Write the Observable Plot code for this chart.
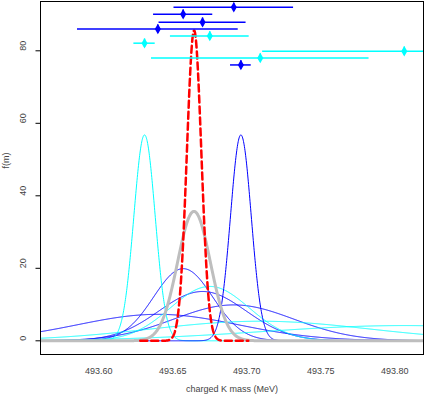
<!DOCTYPE html>
<html><head><meta charset="utf-8">
<script src="https://cdn.jsdelivr.net/npm/d3@7"></script>
<script src="https://cdn.jsdelivr.net/npm/@observablehq/plot@0.6"></script>
<style>body{margin:0;background:#fff} svg{display:block}</style>
</head><body><div id="chart"></div>
<script>
// Measurements (charged K mass, MeV)
const massValues  = [493.6912, 493.6570, 493.6701, 493.6399, 493.6750, 493.6309, 493.8064, 493.7091, 493.6960];
const massErrors  = [0.0404, 0.0200, 0.0294, 0.0543, 0.0266, 0.0072, 0.0957, 0.0735, 0.0070];
const rowLevels   = [92.0, 90.1, 87.9, 86.0, 84.1, 82.1, 79.9, 78.0, 76.1];
const curvePeaks  = [9.9, 19.9, 13.6, 7.3, 15.0, 56.8, 4.2, 5.4, 56.8];
const seriesColors = ["blue","blue","blue","blue","cyan","cyan","cyan","cyan","blue"];
// Combined curves: [center, sigma, peak]
const grayCurve = [493.6643, 0.0111, 35.7];
const redCurve  = [493.6644, 0.0049, 85.6];
const redRange  = [493.628, 493.701];
const xTicks = [493.60, 493.65, 493.70, 493.75, 493.80];
const yTicks = [0, 20, 40, 60, 80];
const xDomain = [493.5606, 493.8194];
const yDomain = [-3.78, 93.6];

const gauss = (x, c, s, p) => p * Math.exp(-0.5 * ((x - c) / s) ** 2);
const grid = (a, b) => d3.range(a, b + 1e-9, 0.0002);

const curves = [];
massValues.forEach((m, i) => {
  for (const x of grid(xDomain[0], xDomain[1]))
    curves.push({i, x, y: gauss(x, m, massErrors[i], curvePeaks[i]), color: seriesColors[i]});
});
const grayPts = grid(xDomain[0], xDomain[1]).map(x => ({x, y: gauss(x, ...grayCurve)}));
const redPts = grid(redRange[0], redRange[1]).map(x => ({x, y: gauss(x, ...redCurve)}));
const meas = massValues.map((m, i) => ({m, e: massErrors[i], y: rowLevels[i], color: seriesColors[i]}));

const font = "Liberation Sans, Arial, Helvetica, sans-serif";
const chart = Plot.plot({
  width: 424, height: 395,
  marginLeft: 40, marginRight: 1, marginTop: 1, marginBottom: 41,
  style: {fontFamily: font, fontSize: "9px", color: "#444", background: "#fff"},
  x: {domain: xDomain},
  y: {domain: yDomain},
  marks: [
    Plot.line(curves, {x: "x", y: "y", z: "i", stroke: "color", strokeWidth: 1, clip: true}),
    Plot.line(grayPts, {x: "x", y: "y", stroke: "#bebebe", strokeWidth: 3, clip: true}),
    Plot.line(redPts, {x: "x", y: "y", stroke: "red", strokeWidth: 2.5, strokeDasharray: "7,4", clip: true}),
    Plot.ruleY(meas, {y: "y", x1: d => d.m - d.e, x2: d => d.m + d.e, stroke: "color", strokeWidth: 1.5, clip: true}),
    Plot.ruleX(meas, {x: "m", y1: d => d.y - 1.15, y2: d => d.y + 1.15, stroke: "color", strokeWidth: 1.5}),
    Plot.dot(meas, {x: "m", y: "y", fill: "color", symbol: "diamond", r: 3.2}),
    Plot.frame({stroke: "black"}),
    Plot.axisX({ticks: xTicks, tickSize: 0, tickPadding: 13, tickFormat: d3.format(".2f"), label: null, fill: "#444"}),
    Plot.axisY({ticks: yTicks, tickSize: 4.5, tickFormat: () => "", label: null, stroke: "black"}),
    Plot.text(yTicks, {y: d => d, text: d => String(d), frameAnchor: "left", dx: -17, rotate: -90, fill: "#444", fontSize: 9}),
    Plot.text(["f(m)"], {frameAnchor: "left", dx: -34, dy: -9.5, rotate: -90, fill: "#444", fontSize: 9}),
    Plot.text(["charged K mass (MeV)"], {frameAnchor: "bottom", dy: 37, fill: "#444", fontSize: 9})
  ]
});
document.getElementById("chart").appendChild(chart);
</script>
</body></html>
